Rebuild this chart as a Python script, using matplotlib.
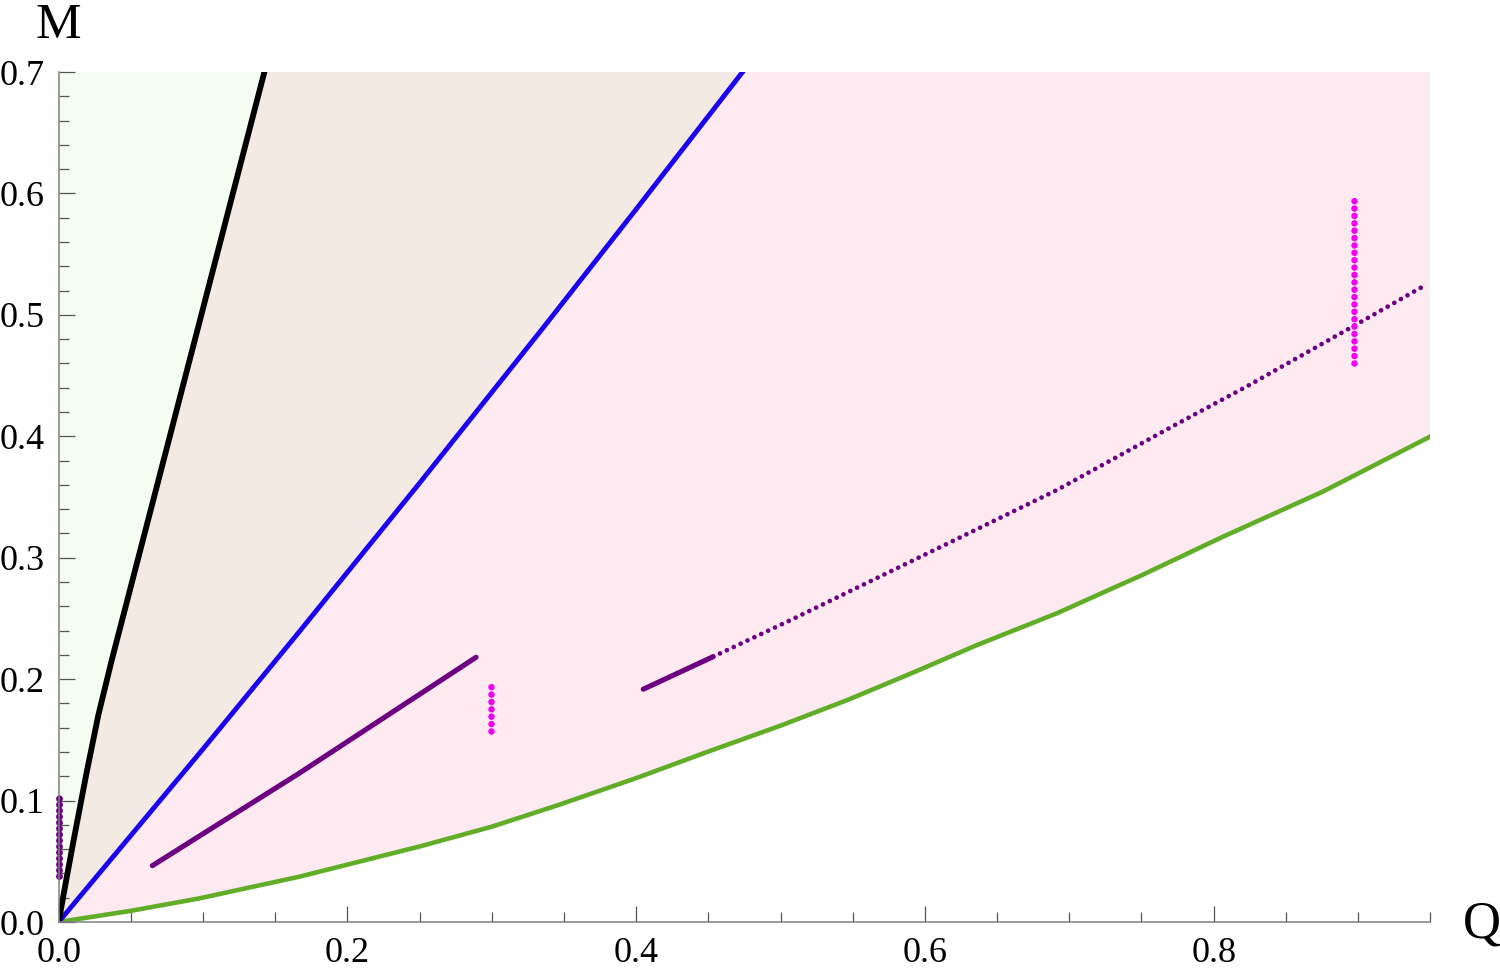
import numpy as np
import matplotlib
matplotlib.use("Agg")
import matplotlib.pyplot as plt
from matplotlib.ticker import MultipleLocator, FormatStrFormatter


# Données

Q_MAX = 0.95
M_MAX = 0.7

# courbe noire
noir_Q = [0.0, 0.005, 0.01, 0.0193, 0.0275, 0.0368, 0.1425]
noir_M = [0.0, 0.033, 0.065, 0.1227, 0.1705, 0.2158, 0.7]

# courbe bleue
bleu_Q = [0.0, 0.1, 0.1667, 0.25, 0.337, 0.4, 0.4737]
bleu_M = [0.0, 0.1425, 0.2391, 0.3615, 0.4915, 0.587, 0.7]

# courbe verte
vert_Q = [0.0, 0.05, 0.0976, 0.1666, 0.25, 0.3, 0.3462, 0.4, 0.4498, 0.5, 0.5465,
          0.59, 0.6363, 0.6915, 0.75, 0.8066, 0.8757, 0.95]
vert_M = [0.0, 0.0092, 0.0195, 0.0373, 0.0622, 0.0785, 0.0964, 0.1185, 0.1403, 0.1617, 0.1829,
          0.2045, 0.2282, 0.2543, 0.2855, 0.3174, 0.3545, 0.3998]

# segments violets pleins
seg1_Q = [0.0649, 0.1666, 0.2891]
seg1_M = [0.0464, 0.1225, 0.218]
seg2_Q = [0.4049, 0.4533]
seg2_M = [0.1917, 0.2185]

# suite en pointillés
pts_Q = [0.4533, 0.5073, 0.6247, 0.6915, 0.7721, 0.8227, 0.8975, 0.9466]
pts_M = [0.2185, 0.2488, 0.3169, 0.3558, 0.4086, 0.4409, 0.4912, 0.5245]

# colonnes de points
col0_Q = [0.0, 0.0]
col0_M = [0.0379, 0.1032]
col1_Q = [0.2994, 0.2994]
col1_M = [0.157, 0.199]
col2_Q = [0.8975, 0.8975]
col2_M = [0.4605, 0.5983]


plt.rcParams["font.family"] = ["Liberation Serif", "DejaVu Serif"]

fig = plt.figure(figsize=(15, 9.73), dpi=100)
ax = fig.add_axes([0.0391, 0.0524, 0.9144, 0.8736])

# zones colorées
ax.fill(noir_Q + [0.0], noir_M + [M_MAX], color="#f5fcf1", lw=0)
ax.fill(noir_Q + bleu_Q[::-1], noir_M + bleu_M[::-1], color="#f3eae4", lw=0)
ax.fill(bleu_Q + [Q_MAX] + vert_Q[::-1], bleu_M + [M_MAX] + vert_M[::-1],
        color="#fdeaf1", lw=0)

# courbes
ax.plot(vert_Q, vert_M, color="#62ad28", lw=3.3)
ax.plot(bleu_Q, bleu_M, color="#1a00f0", lw=3.5)
ax.plot(noir_Q, noir_M, color="black", lw=4.2)

violet = "#6c0080"
magenta = "#f000f0"
ax.plot(seg1_Q, seg1_M, color=violet, lw=3.7, solid_capstyle="round")
ax.plot(seg2_Q, seg2_M, color=violet, lw=3.7, solid_capstyle="round")
ax.plot(pts_Q, pts_M, color=violet, lw=3.4, ls=(0, (0.01, 1.6)), dash_capstyle="round")
ax.plot(col0_Q, col0_M, color=violet, lw=5.0, ls=(0, (0.01, 0.85)), dash_capstyle="round",
        clip_on=False)
ax.plot(col1_Q, col1_M, color=magenta, lw=4.7, ls=(0, (0.01, 1.12)), dash_capstyle="round")
ax.plot(col2_Q, col2_M, color=magenta, lw=4.7, ls=(0, (0.01, 1.12)), dash_capstyle="round")

# axes
ax.set_xlim(0, Q_MAX)
ax.set_ylim(0, M_MAX)
for s in ["top", "right"]:
    ax.spines[s].set_visible(False)
for s in ["left", "bottom"]:
    ax.spines[s].set_color("#808080")
    ax.spines[s].set_linewidth(1.1)
ax.patch.set_alpha(0)

ax.xaxis.set_major_locator(MultipleLocator(0.2))
ax.xaxis.set_minor_locator(MultipleLocator(0.05))
ax.yaxis.set_major_locator(MultipleLocator(0.1))
ax.yaxis.set_minor_locator(MultipleLocator(0.02))
ax.xaxis.set_major_formatter(FormatStrFormatter("%.1f"))
ax.yaxis.set_major_formatter(FormatStrFormatter("%.1f"))

ax.tick_params(which="both", direction="in", color="#555555", width=0.9, labelsize=26)
ax.tick_params(which="major", length=11.5)
ax.tick_params(which="minor", length=7)
ax.tick_params(axis="x", pad=11)
ax.tick_params(axis="y", pad=10)

fig.text(58.7 / 1500, 1 - 38 / 973, "M", fontsize=37, ha="center", va="baseline")
fig.text(1463 / 1500, 1 - 938 / 973, "Q", fontsize=38, ha="left", va="baseline")

fig.savefig("out.png", dpi=100)
